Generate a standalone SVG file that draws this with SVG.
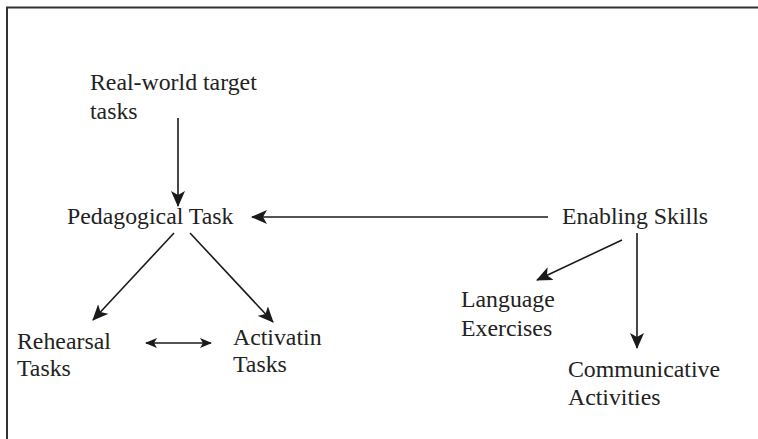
<svg xmlns="http://www.w3.org/2000/svg" width="758" height="439" viewBox="0 0 758 439">
<defs>
<marker id="ah" viewBox="0 0 16 14" refX="15" refY="7" markerWidth="16" markerHeight="14" markerUnits="userSpaceOnUse" orient="auto-start-reverse">
<path d="M0,0 L16,7 L0,14 L4,7 Z" fill="#1a1a1a"/>
</marker>
<marker id="ahs" viewBox="0 0 12 10" refX="11" refY="5" markerWidth="12" markerHeight="10" markerUnits="userSpaceOnUse" orient="auto-start-reverse">
<path d="M0,0 L12,5 L0,10 L3,5 Z" fill="#1a1a1a"/>
</marker>
</defs>
<style>
text{font-family:"Liberation Serif","Times New Roman",serif;font-size:23.8px;fill:#222}
.c{stroke:#1a1a1a;stroke-width:1.6;fill:none}
</style>
<rect x="0" y="0" width="758" height="439" fill="#fff"/>
<path d="M7,439 V7.5 H758" stroke="#333" stroke-width="2" fill="none"/>
<g id="connectors">
<line class="c" x1="178" y1="118" x2="178" y2="206" marker-end="url(#ah)"/>
<line class="c" x1="548" y1="217" x2="252" y2="217" marker-end="url(#ah)"/>
<line class="c" x1="174" y1="233" x2="93" y2="320" marker-end="url(#ah)"/>
<line class="c" x1="190" y1="233" x2="273" y2="322" marker-end="url(#ah)"/>
<line class="c" x1="146" y1="343" x2="211" y2="343" marker-start="url(#ahs)" marker-end="url(#ahs)"/>
<line class="c" x1="622" y1="240" x2="537" y2="280" marker-end="url(#ah)"/>
<line class="c" x1="637" y1="233" x2="637" y2="348" marker-end="url(#ah)"/>
</g>
<g id="real-world"><text x="90" y="90">Real-world target</text><text x="90" y="119">tasks</text></g>
<g id="pedagogical"><text x="67" y="224">Pedagogical Task</text></g>
<g id="enabling"><text x="562" y="224">Enabling Skills</text></g>
<g id="rehearsal"><text x="17" y="349">Rehearsal</text><text x="17" y="376">Tasks</text></g>
<g id="activatin"><text x="233" y="345">Activatin</text><text x="233" y="372">Tasks</text></g>
<g id="language"><text x="461" y="307">Language</text><text x="461" y="336">Exercises</text></g>
<g id="communicative"><text x="568" y="377">Communicative</text><text x="568" y="405">Activities</text></g>
</svg>
